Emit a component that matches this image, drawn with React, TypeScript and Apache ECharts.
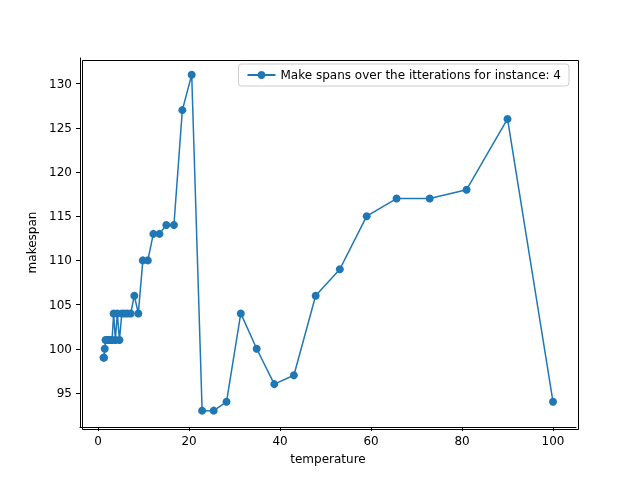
import React, { useEffect, useRef } from 'react';
import * as echarts from 'echarts';

const temperatures = [
  100, 90, 81, 72.9, 65.61, 59.05, 53.14, 47.83, 43.05, 38.74, 34.87, 31.38, 28.24, 25.42,
  22.88, 20.59, 18.53, 16.68, 15.01, 13.51, 12.16, 10.94, 9.85, 8.86, 7.98, 7.18, 6.46,
  5.81, 5.23, 4.71, 4.24, 3.82, 3.43, 3.09, 2.78, 2.5, 2.25, 2.03, 1.82, 1.64, 1.48, 1.33, 1.2,
];
const makespans = [
  94, 126, 118, 117, 117, 115, 109, 106, 97, 96, 100, 104, 94, 93,
  93, 131, 127, 114, 114, 113, 113, 110, 110, 104, 106, 104, 104,
  104, 104, 101, 104, 101, 104, 101, 101, 101, 101, 101, 101, 101, 100, 99, 99,
];
const xTicks = [0, 20, 40, 60, 80, 100];
const yTicks = [95, 100, 105, 110, 115, 120, 125, 130];

const App: React.FC = () => {
  const chartRef = useRef<HTMLDivElement>(null);

  useEffect(() => {
    const chart = echarts.init(chartRef.current!, undefined, { renderer: 'svg' });
    const font = 'DejaVu Sans';
    chart.setOption({
      animation: false,
      textStyle: { fontFamily: font },
      grid: { left: 80, right: 64, top: 58, bottom: 53, outerBoundsMode: 'none' },
      legend: {
        top: 64, right: 71, orient: 'vertical',
        backgroundColor: '#fff', borderColor: '#ccc', borderWidth: 1, borderRadius: 3,
        padding: [5, 8], itemWidth: 28, itemHeight: 10,
        textStyle: { fontSize: 12, color: '#000', fontFamily: font },
      },
      xAxis: {
        type: 'value', min: -3.96, max: 105.05,
        name: 'temperature', nameLocation: 'middle', nameGap: 26,
        nameTextStyle: { fontSize: 12, color: '#000' },
        axisLine: { onZero: false, lineStyle: { color: '#000' } },
        axisTick: { show: true, customValues: xTicks, length: 4, lineStyle: { color: '#000' } },
        axisLabel: { customValues: xTicks, color: '#000', fontSize: 12 },
        splitLine: { show: false },
      },
      yAxis: {
        type: 'value', min: 91.15, max: 132.9,
        name: 'makespan', nameLocation: 'middle', nameGap: 42,
        nameTextStyle: { fontSize: 12, color: '#000' },
        axisLine: { show: true, onZero: false, lineStyle: { color: '#000' } },
        axisTick: { show: true, customValues: yTicks, length: 4, lineStyle: { color: '#000' } },
        axisLabel: { customValues: yTicks, color: '#000', fontSize: 12 },
        splitLine: { show: false },
      },
      graphic: [{
        type: 'rect', left: 80, top: 58, shape: { width: 496, height: 369 },
        style: { fill: 'none', stroke: '#000', lineWidth: 1 }, silent: true,
      }],
      series: [{
        name: 'Make spans over the itterations for instance: 4',
        type: 'line',
        data: temperatures.map((t, i) => [t, makespans[i]]),
        symbol: 'circle', symbolSize: 8,
        itemStyle: { color: '#1f77b4' },
        lineStyle: { color: '#1f77b4', width: 1.5 },
      }],
    });
    return () => chart.dispose();
  }, []);

  return (
    <div
      ref={chartRef}
      style={{ position: 'fixed', left: 0, top: 0, width: 640, height: 480 }}
    />
  );
};

export default App;
